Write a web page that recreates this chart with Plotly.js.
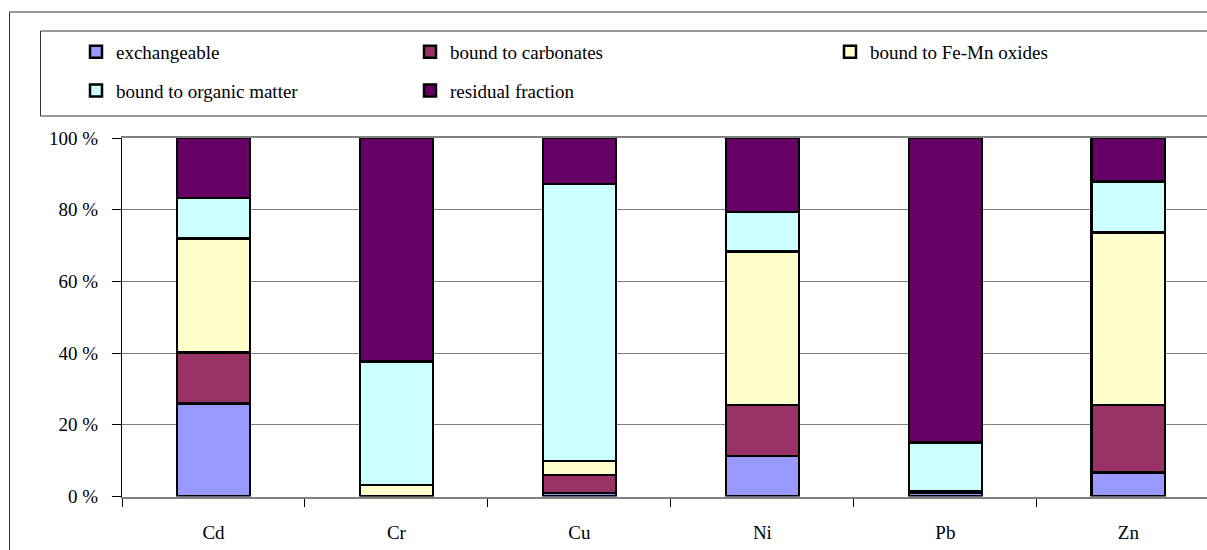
<!DOCTYPE html>
<html>
<head>
<meta charset="utf-8">
<script src="https://cdn.plot.ly/plotly-3.0.1.min.js"></script>
<style>html,body{margin:0;padding:0;background:#fff;}#chart{width:1207px;height:550px;}</style>
</head>
<body>
<div id="chart"></div>
<script>
const metals = ["Cd", "Cr", "Cu", "Ni", "Pb", "Zn"];
const exchangeable = [26.0, 0.0, 1.0, 11.3, 1.0, 6.7];
const carbonates = [14.2, 0.0, 5.0, 14.2, 0.5, 18.8];
const feMnOxides = [31.8, 3.2, 3.9, 42.9, 0.0, 48.1];
const organicMatter = [11.3, 34.4, 77.3, 11.0, 13.6, 14.3];
const residual = [16.7, 62.4, 12.8, 20.6, 84.9, 12.1];
const yTickVals = [0, 20, 40, 60, 80, 100];
const yTickText = ["0 %", "20 %", "40 %", "60 %", "80 %", "100 %"];

const W = 1207, H = 550;
const px = v => v / W;
const py = v => 1 - v / H;

const series = [
  {name: "exchangeable", y: exchangeable, color: "#9999FF", legend: "legend"},
  {name: "bound to carbonates", y: carbonates, color: "#993366", legend: "legend2"},
  {name: "bound to Fe-Mn oxides", y: feMnOxides, color: "#FFFFCC", legend: "legend3"},
  {name: "bound to organic matter", y: organicMatter, color: "#CCFFFF", legend: "legend"},
  {name: "residual fraction", y: residual, color: "#660066", legend: "legend2"}
];

const traces = series.map((s, i) => ({
  type: "bar",
  x: metals,
  y: s.y,
  name: s.name,
  legend: s.legend,
  legendgroup: "g" + i,
  marker: {color: s.color, line: {color: "#000000", width: 2.5}},
  hoverinfo: "x+y+name"
}));

const font = {family: "\"Liberation Serif\", \"Times New Roman\", serif", size: 19, color: "#000000"};
const legendBase = {
  orientation: "v",
  xanchor: "left",
  yanchor: "top",
  bgcolor: "rgba(0,0,0,0)",
  borderwidth: 0,
  font: font,
  traceorder: "grouped",
  tracegroupgap: 11
};

const layout = {
  width: W,
  height: H,
  margin: {l: 0, r: 0, t: 0, b: 0},
  paper_bgcolor: "#ffffff",
  plot_bgcolor: "#ffffff",
  barmode: "stack",
  bargap: 0.6,
  font: font,
  showlegend: true,
  legend: Object.assign({}, legendBase, {x: px(76), y: py(33)}),
  legend2: Object.assign({}, legendBase, {x: px(410), y: py(33)}),
  legend3: Object.assign({}, legendBase, {x: px(830), y: py(33)}),
  xaxis: {
    type: "category",
    domain: [px(122), 1],
    range: [-0.5, 5.43],
    showgrid: false,
    showline: true,
    linecolor: "#808080",
    linewidth: 2,
    mirror: true,
    ticks: "outside",
    tickson: "boundaries",
    ticklen: 8,
    tickcolor: "#000000",
    tickwidth: 1,
    ticklabelstandoff: 18,
    tickfont: font,
    layer: "below traces",
    fixedrange: true
  },
  yaxis: {
    domain: [1 - 496.5 / H, 1 - 138 / H],
    range: [0, 100],
    tickvals: yTickVals,
    ticktext: yTickText,
    showgrid: true,
    gridcolor: "#808080",
    gridwidth: 1,
    zeroline: false,
    showline: true,
    linecolor: "#000000",
    linewidth: 1,
    ticks: "outside",
    ticklen: 9,
    tickcolor: "#000000",
    ticklabelstandoff: 10,
    tickfont: font,
    layer: "below traces",
    fixedrange: true
  },
  shapes: [
    {type: "line", xref: "paper", yref: "paper", x0: px(9.5), x1: 1.01, y0: py(12), y1: py(12), line: {color: "#333333", width: 1}},
    {type: "line", xref: "paper", yref: "paper", x0: px(9.5), x1: px(9.5), y0: py(12), y1: -0.01, line: {color: "#333333", width: 1}},
    {type: "rect", xref: "paper", yref: "paper", x0: px(40.5), x1: 1.01, y0: py(116), y1: py(31), line: {color: "#333333", width: 1}, fillcolor: "rgba(0,0,0,0)"}
  ]
};

Plotly.newPlot("chart", traces, layout, {staticPlot: true, displayModeBar: false});
</script>
</body>
</html>
